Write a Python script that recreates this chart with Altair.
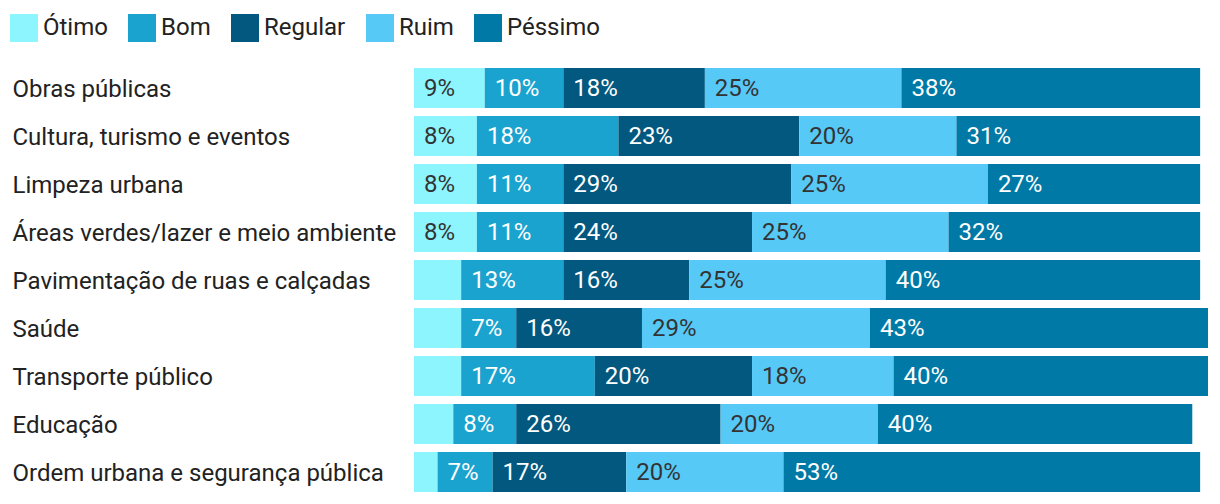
import altair as alt
import pandas as pd

categories = [
    "Obras públicas",
    "Cultura, turismo e eventos",
    "Limpeza urbana",
    "Áreas verdes/lazer e meio ambiente",
    "Pavimentação de ruas e calçadas",
    "Saúde",
    "Transporte público",
    "Educação",
    "Ordem urbana e segurança pública",
]
series = ["Ótimo", "Bom", "Regular", "Ruim", "Péssimo"]
otimo = [9, 8, 8, 8, 6, 6, 6, 5, 3]
bom = [10, 18, 11, 11, 13, 7, 17, 8, 7]
regular = [18, 23, 29, 24, 16, 16, 20, 26, 17]
ruim = [25, 20, 25, 25, 25, 29, 18, 20, 20]
pessimo = [38, 31, 27, 32, 40, 43, 40, 40, 53]
colors = ["#8df5fe", "#1ba3cf", "#02587f", "#57c9f7", "#0079a6"]

rows = []
for s_i, (name, vals) in enumerate(zip(series, [otimo, bom, regular, ruim, pessimo])):
    for cat, v in zip(categories, vals):
        rows.append({"cat": cat, "serie": name, "value": v, "order": s_i,
                     "label": f"{v}%"})
df = pd.DataFrame(rows)

base = alt.Chart(df).transform_stack(
    stack="value", groupby=["cat"], as_=["x0", "x1"],
    sort=[alt.SortField("order", order="ascending")]
)

xscale = alt.Scale(domain=[0, 101], nice=False, zero=True)
yenc = alt.Y(
    "cat:N", sort=categories, title=None,
    scale=alt.Scale(paddingInner=1 / 6, paddingOuter=1 / 12),
    axis=alt.Axis(labelAlign="left", labelPadding=402, ticks=False, tickSize=0,
                  domain=False, grid=False, labelFont="Roboto", labelFontSize=24,
                  labelColor="#222222", labelBaseline="middle", labelLimit=420,
                  labelOffset=2),
)

bars = base.mark_bar().encode(
    x=alt.X("x0:Q", scale=xscale, axis=None),
    x2="x1:Q",
    y=yenc,
    color=alt.Color(
        "serie:N",
        scale=alt.Scale(domain=series, range=colors),
        legend=alt.Legend(
            title=None, orient="none", direction="horizontal",
            legendX=-404, legendY=-50, padding=0,
            symbolType="M-1,-1H1V1H-1Z", symbolSize=784, symbolStrokeWidth=0,
            symbolOpacity=1,
            labelFont="Roboto", labelFontSize=24, labelColor="#222222",
            labelOffset=5, columnPadding=20, labelLimit=300,
        ),
    ),
    order=alt.Order("order:Q"),
)

texts = base.transform_filter("datum.value >= 7").mark_text(
    align="left", baseline="middle", dx=10, dy=1, font="Roboto", fontSize=24
).encode(
    x=alt.X("x0:Q", scale=xscale, axis=None),
    y=alt.Y("cat:N", sort=categories),
    text="label:N",
    color=alt.condition(
        alt.FieldOneOfPredicate(field="serie", oneOf=["Ótimo", "Ruim"]),
        alt.value("#333333"),
        alt.value("#ffffff"),
    ),
)

chart = alt.layer(bars, texts).properties(
    width=794, height=432,
    autosize=alt.AutoSizeParams(type="none"),
    padding={"left": 406, "top": 56, "right": 4, "bottom": 0},
).configure_view(stroke=None)

chart.save("out.html", embed_options={"renderer": "svg", "actions": False})
